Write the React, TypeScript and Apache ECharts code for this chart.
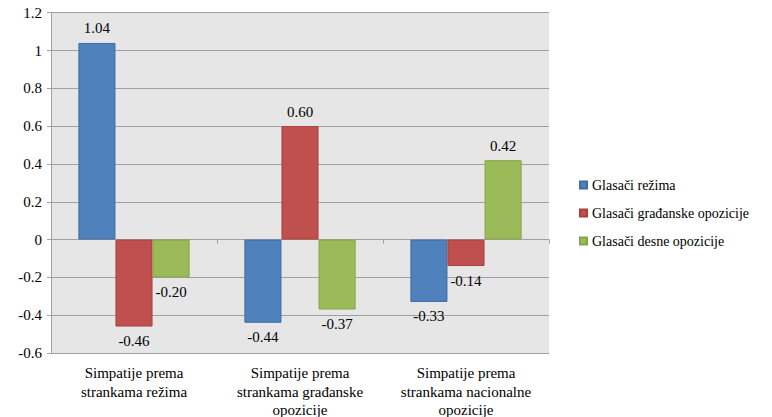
import React, { useEffect, useRef } from "react";
import * as echarts from "echarts";

const categories = [
  "Simpatije prema\nstrankama režima",
  "Simpatije prema\nstrankama građanske\nopozicije",
  "Simpatije prema\nstrankama nacionalne\nopozicije",
];
const seriesNames = ["Glasači režima", "Glasači građanske opozicije", "Glasači desne opozicije"];
const rezimaValues = [1.04, -0.44, -0.33];
const gradjanskeValues = [-0.46, 0.6, -0.14];
const desneValues = [-0.2, -0.37, 0.42];
const colors = ["#4F81BD", "#C0504D", "#9BBB59"];
const borders = ["#3E6DA6", "#A8403D", "#86A44A"];

const FONT = "Liberation Serif";

export default function App() {
  const ref = useRef<HTMLDivElement>(null);
  useEffect(() => {
    if (!ref.current) return;
    const chart = echarts.init(ref.current, undefined, { renderer: "svg" });
    const all = [rezimaValues, gradjanskeValues, desneValues];
    chart.setOption({
      animation: false,
      grid: {
        left: 51,
        right: 223,
        top: 12.7,
        bottom: 64,
        show: true,
        backgroundColor: "#E6E6E6",
        borderWidth: 0,
        containLabel: false,
        outerBoundsMode: "none",
      },
      legend: {
        orient: "vertical",
        left: 574,
        top: 173,
        itemWidth: 7,
        itemHeight: 7,
        itemGap: 14,
        icon: "rect",
        textStyle: { fontFamily: FONT, fontSize: 14, color: "black" },
        data: seriesNames,
      },
      xAxis: {
        type: "category",
        data: categories,
        axisLine: { onZero: true, lineStyle: { color: "#A0A0A0", width: 1 } },
        axisTick: { show: true, length: 4, lineStyle: { color: "#A0A0A0" } },
        axisLabel: {
          margin: 11,
          fontFamily: FONT,
          fontSize: 15,
          color: "black",
          lineHeight: 18.5,
          interval: 0,
        },
      },
      yAxis: {
        type: "value",
        min: -0.6,
        max: 1.2,
        interval: 0.2,
        axisLine: { show: true, lineStyle: { color: "#A0A0A0" } },
        axisTick: { show: true, length: 4, lineStyle: { color: "#A0A0A0" } },
        splitLine: { show: true, lineStyle: { color: "#A0A0A0", width: 1 } },
        axisLabel: {
          fontFamily: FONT,
          fontSize: 15,
          color: "black",
          margin: 9,
          formatter: (v: number) => String(Math.round(v * 10) / 10),
        },
      },
      series: all.map((vals, i) => ({
        name: seriesNames[i],
        type: "bar",
        barGap: "0%",
        barCategoryGap: "33%",
        itemStyle: { color: colors[i], borderColor: borders[i], borderWidth: 1 },
        data: vals.map((v) => ({
          value: v,
          label: {
            show: true,
            position: v >= 0 ? "top" : "bottom",
            distance: 7,
            formatter: v.toFixed(2),
            fontFamily: FONT,
            fontSize: 15,
            color: "#000",
          },
        })),
      })),
    });
    return () => chart.dispose();
  }, []);
  return (
    <div
      ref={ref}
      style={{ position: "fixed", left: 0, top: 0, width: 772, height: 417, background: "#fff" }}
    />
  );
}
